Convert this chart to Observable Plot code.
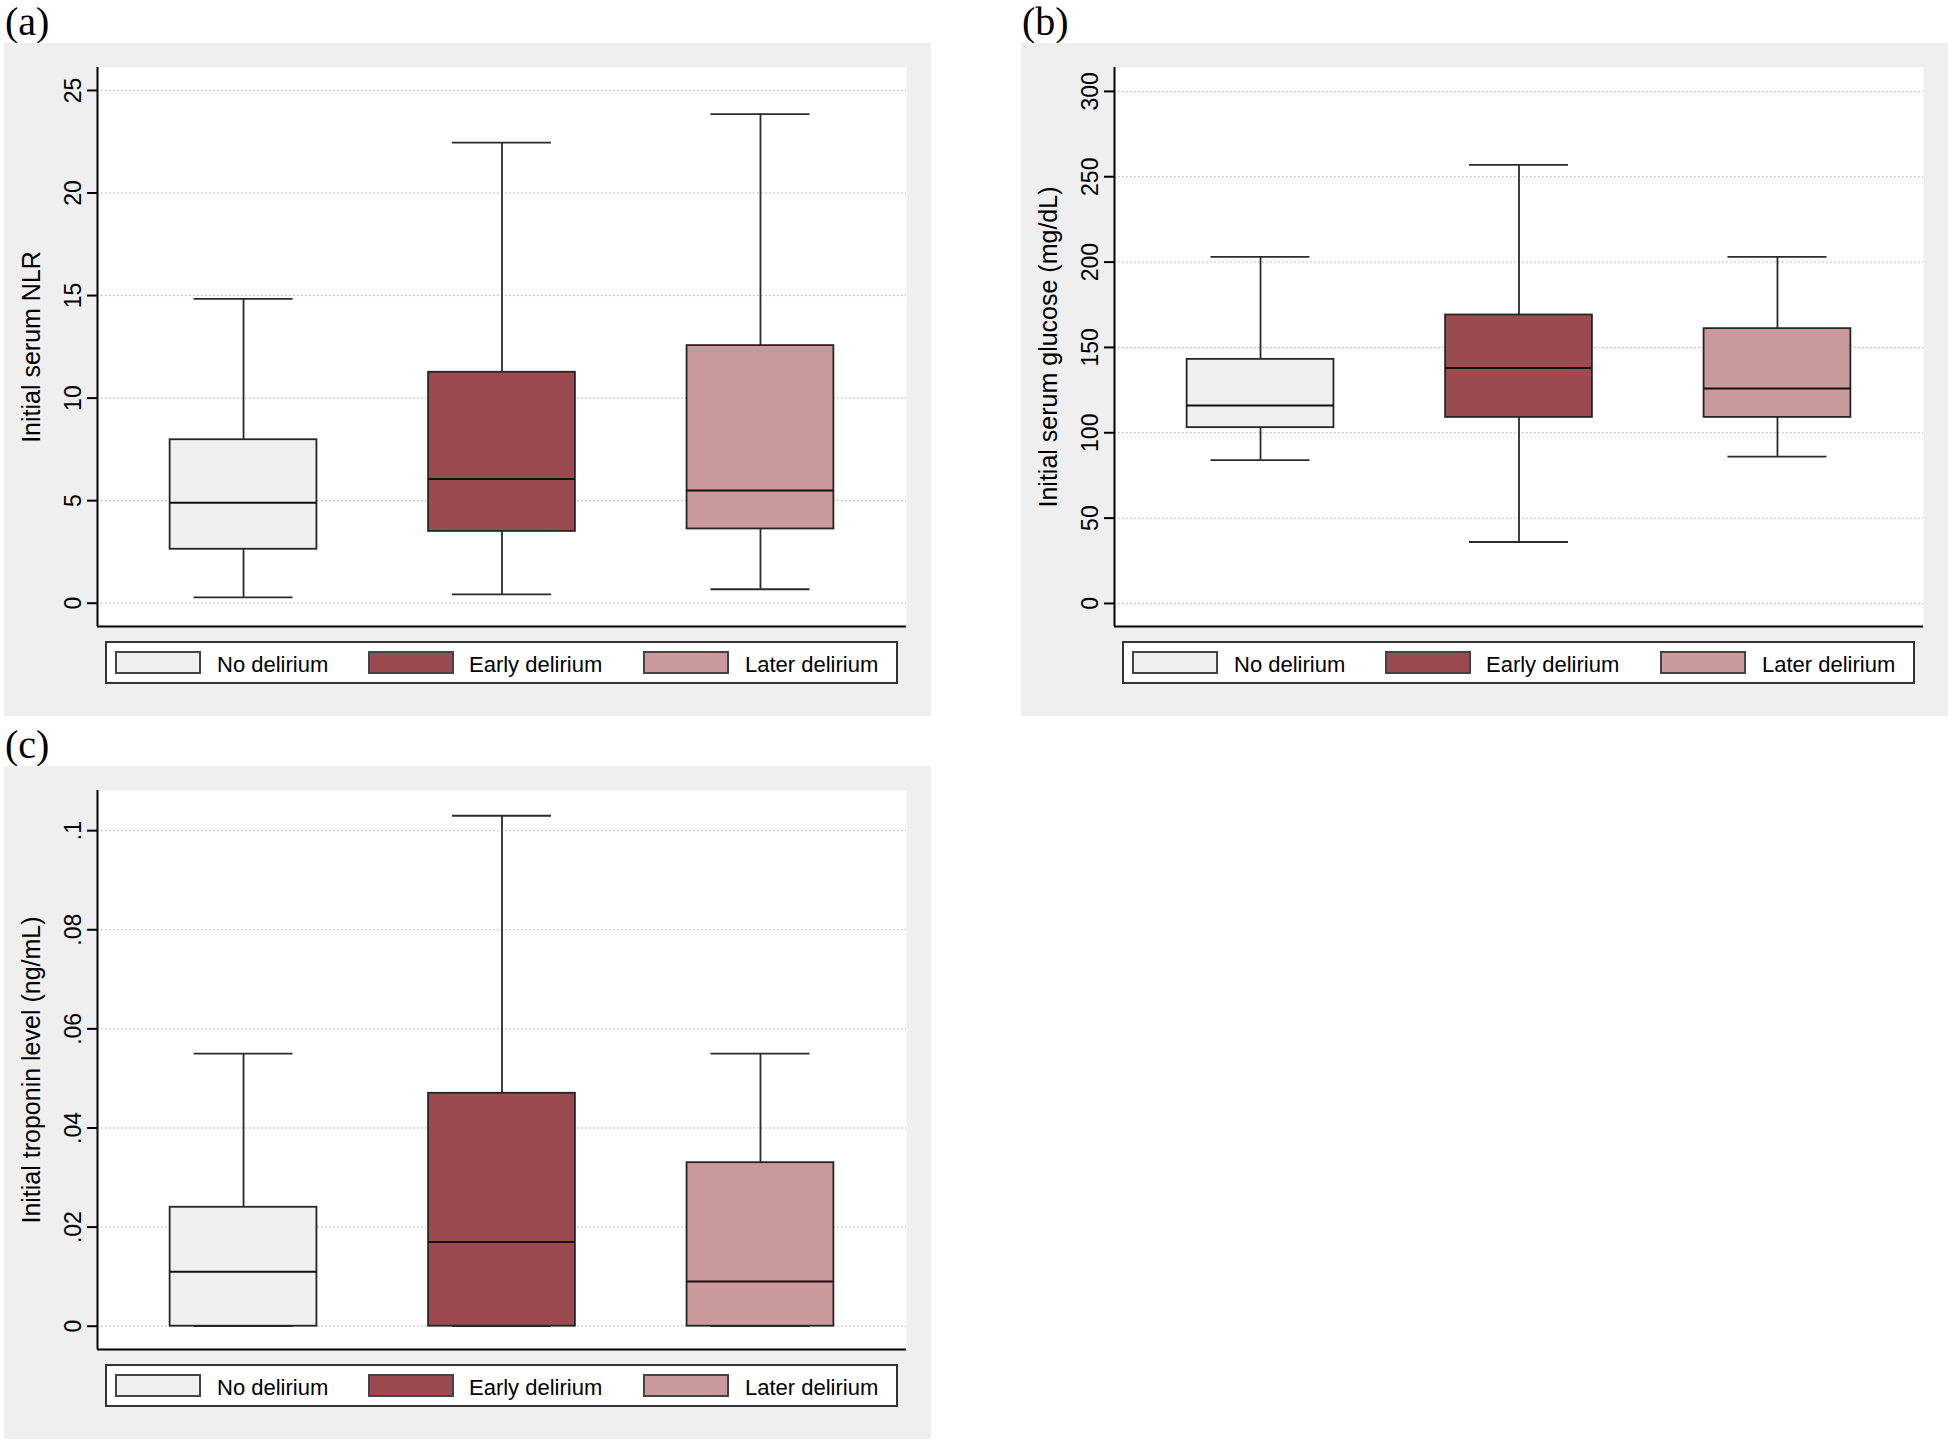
<!DOCTYPE html>
<html>
<head>
<meta charset="utf-8">
<script src="https://cdn.jsdelivr.net/npm/d3@7"></script>
<script src="https://cdn.jsdelivr.net/npm/@observablehq/plot@0.6"></script>
<style>
  html, body { margin: 0; padding: 0; background: #fff; }
  body { width: 1950px; height: 1444px; position: relative; overflow: hidden;
         font-family: "Liberation Sans", Arial, Helvetica, sans-serif; }
  .tag { position: absolute; font-family: "Liberation Serif", "Times New Roman", serif;
         font-size: 40px; line-height: 40px; color: #000; }
  .panel { position: absolute; background: #efefef; width: 927px; height: 673px; }
  .panel svg { position: absolute; left: 0; top: 0; }
  .legend { position: absolute; left: 101px; top: 598px; width: 789px; height: 39px;
            border: 2px solid #333; background: #fff; }
  .sw { position: absolute; top: 8px; width: 82px; height: 19px; border: 2px solid #444; }
  .lt { position: absolute; top: 11px; font-size: 22px; line-height: 22px; color: #000; white-space: nowrap; }
</style>
</head>
<body>
<div class="tag" style="left:5px;top:2px">(a)</div>
<div class="tag" style="left:1022px;top:2px">(b)</div>
<div class="tag" style="left:5px;top:725px">(c)</div>
<div class="panel" id="pa" style="left:4px;top:43px"></div>
<div class="panel" id="pb" style="left:1021px;top:43px"></div>
<div class="panel" id="pc" style="left:4px;top:766px"></div>
<script>
// ---- data ----
const categories = ["No delirium", "Early delirium", "Later delirium"];
const fills = ["#efefef", "#9b4a50", "#c9999b"];

// (a) Initial serum NLR
const nlrLower  = [0.28, 0.43, 0.68];
const nlrQ1     = [2.63, 3.50, 3.62];
const nlrMedian = [4.90, 6.06, 5.50];
const nlrQ3     = [7.97, 11.26, 12.56];
const nlrUpper  = [14.84, 22.46, 23.85];
const nlrTicks  = [0, 5, 10, 15, 20, 25];

// (b) Initial serum glucose (mg/dL)
const gluLower  = [84, 36, 86];
const gluQ1     = [103, 109, 109];
const gluMedian = [116, 138, 126];
const gluQ3     = [143, 169, 161];
const gluUpper  = [203, 257, 203];
const gluTicks  = [0, 50, 100, 150, 200, 250, 300];

// (c) Initial troponin level (ng/mL)
const tropLower  = [0, 0, 0];
const tropQ1     = [0, 0, 0];
const tropMedian = [0.011, 0.017, 0.009];
const tropQ3     = [0.024, 0.047, 0.033];
const tropUpper  = [0.055, 0.103, 0.055];
const tropTicks  = [0, 0.02, 0.04, 0.06, 0.08, 0.1];

// ---- layout / style ----
const X_DOMAIN = [-0.565, 2.565];
const HALF_BOX = 0.284;
const HALF_CAP = 0.1915;
const FONT = '"Liberation Sans", Arial, Helvetica, sans-serif';

function boxChart(stats, yDomain, ticks, fmt, label) {
  const rows = categories.map((c, i) => ({
    i, c,
    lower: stats.lower[i], q1: stats.q1[i], median: stats.median[i],
    q3: stats.q3[i], upper: stats.upper[i]
  }));
  const line = {stroke: "#2b2b2b", strokeWidth: 1.8};
  return Plot.plot({
    width: 927, height: 590,
    marginLeft: 93, marginRight: 25, marginTop: 24, marginBottom: 7,
    style: {background: "transparent", fontFamily: FONT, fontSize: "23px", color: "#000", overflow: "visible"},
    x: {type: "linear", domain: X_DOMAIN, axis: null},
    y: {domain: yDomain},
    color: {domain: categories, range: fills},
    marks: [
      Plot.frame({fill: "#fff", stroke: null}),
      Plot.gridY(ticks, {stroke: "#aaaaaa", strokeOpacity: 1, strokeWidth: 1, strokeDasharray: "1.5,2.5"}),
      Plot.axisY(ticks, {tickSize: 10, tickPadding: 7, tickRotate: -90, tickFormat: fmt, label: null,
                         stroke: "#000", strokeWidth: 2, fontSize: 23}),
      Plot.axisY([], {tickSize: 0, label, labelAnchor: "center", labelOffset: 75, labelArrow: "none",
                      fontSize: 25}),
      Plot.ruleX(rows, {x: "i", y1: "q3", y2: "upper", ...line}),
      Plot.ruleX(rows, {x: "i", y1: "lower", y2: "q1", ...line}),
      Plot.ruleY(rows, {y: "upper", x1: d => d.i - HALF_CAP, x2: d => d.i + HALF_CAP, ...line}),
      Plot.ruleY(rows, {y: "lower", x1: d => d.i - HALF_CAP, x2: d => d.i + HALF_CAP, ...line}),
      Plot.rectY(rows, {x1: d => d.i - HALF_BOX, x2: d => d.i + HALF_BOX, y1: "q1", y2: "q3",
                        fill: "c", stroke: "#262626", strokeWidth: 1.8}),
      Plot.ruleY(rows, {y: "median", x1: d => d.i - HALF_BOX, x2: d => d.i + HALF_BOX,
                        stroke: "#111", strokeWidth: 2}),
      Plot.ruleX([X_DOMAIN[0]], {stroke: "#000", strokeWidth: 2}),
      Plot.ruleY([yDomain[0]], {stroke: "#000", strokeWidth: 2.2})
    ]
  });
}

function legend() {
  const box = document.createElement("div");
  box.className = "legend";
  const swX = [8, 261, 536];
  const txX = [110, 362, 638];
  categories.forEach((c, i) => {
    const sw = document.createElement("div");
    sw.className = "sw";
    sw.style.left = swX[i] + "px";
    sw.style.background = fills[i];
    box.appendChild(sw);
    const t = document.createElement("div");
    t.className = "lt";
    t.style.left = txX[i] + "px";
    t.textContent = c;
    box.appendChild(t);
  });
  return box;
}

const tropFmt = d => d === 0 ? "0" : String(d).replace(/^0/, "");

const pa = document.getElementById("pa");
pa.appendChild(boxChart({lower: nlrLower, q1: nlrQ1, median: nlrMedian, q3: nlrQ3, upper: nlrUpper},
  [-1.136, 26.12], nlrTicks, d => String(d), "Initial serum NLR"));
pa.appendChild(legend());

const pb = document.getElementById("pb");
pb.appendChild(boxChart({lower: gluLower, q1: gluQ1, median: gluMedian, q3: gluQ3, upper: gluUpper},
  [-13.5, 314.0], gluTicks, d => String(d), "Initial serum glucose (mg/dL)"));
pb.appendChild(legend());

const pc = document.getElementById("pc");
pc.appendChild(boxChart({lower: tropLower, q1: tropQ1, median: tropMedian, q3: tropQ3, upper: tropUpper},
  [-0.0047, 0.1081], tropTicks, tropFmt, "Initial troponin level (ng/mL)"));
pc.appendChild(legend());
</script>
</body>
</html>
